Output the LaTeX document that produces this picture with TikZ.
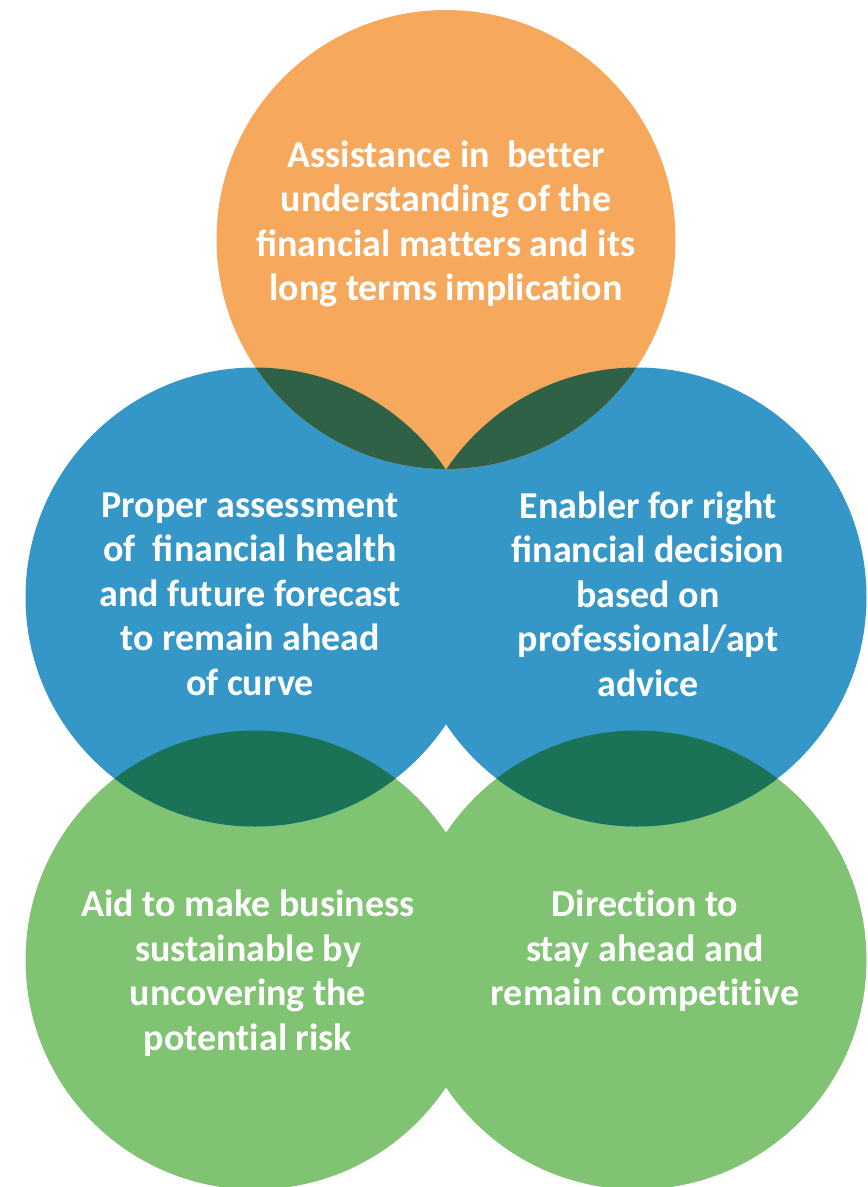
\documentclass[tikz,border=0pt]{standalone}
\usepackage{fontspec}
\setmainfont{Carlito}[RawFeature=-liga]
\definecolor{corange}{RGB}{246,169,92}
\definecolor{cblue}{RGB}{52,151,199}
\definecolor{cgreen}{RGB}{128,195,114}
\definecolor{cdarkog}{RGB}{47,97,71}
\definecolor{cdarkbg}{RGB}{26,115,87}
\begin{document}
\begin{tikzpicture}[x=1pt,y=-1pt,
  lbl/.style={text=white,font=\bfseries\fontsize{38}{44.5}\selectfont,align=center,inner sep=0pt}]
\useasboundingbox (0,0) rectangle (868,1187);
\def\R{229.5}
% circles
\fill[cgreen] (255,960) circle (\R);
\fill[cgreen] (637,960) circle (\R);
\fill[cblue] (255,597) circle (\R);
\fill[cblue] (637,597) circle (\R);
\fill[corange] (446,239.5) circle (\R);
% overlaps orange-blue
\begin{scope}
  \clip (446,239.5) circle (\R);
  \fill[cdarkog] (255,597) circle (\R);
  \fill[cdarkog] (637,597) circle (\R);
\end{scope}
% overlaps blue-green
\begin{scope}
  \clip (255,597) circle (\R);
  \fill[cdarkbg] (255,960) circle (\R);
\end{scope}
\begin{scope}
  \clip (637,597) circle (\R);
  \fill[cdarkbg] (637,960) circle (\R);
\end{scope}
% labels
\node[lbl] (t1) at (446,224) {Assistance in\ \ better\\understanding of the\\ﬁnancial matters and its\\long terms implication};
\node[lbl] (t2) at (250,594) {Proper assessment\\of\ \ ﬁnancial health\\and future forecast\\to remain ahead\\of curve};
\node[lbl] (t3) at (648,594) {Enabler for right\\ﬁnancial decision\\based on\\professional/apt\\advice};
\node[lbl] (t4) at (248,973) {Aid to make business\\sustainable by\\uncovering the\\potential risk};
\node[lbl] (t5) at (645,951) {Direction to\\stay ahead and\\remain competitive};
\end{tikzpicture}
\end{document}
